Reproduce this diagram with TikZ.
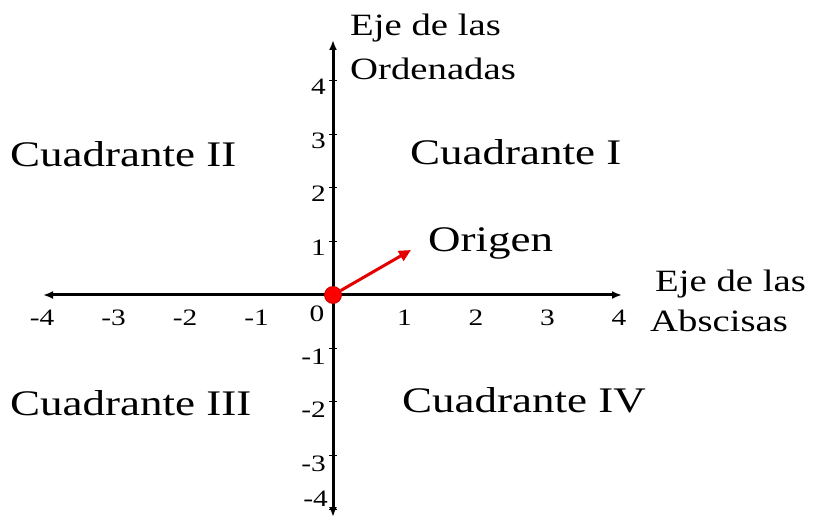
\documentclass[tikz,border=0pt]{standalone}
\usepackage{fontspec}
\setmainfont{Liberation Serif}
\usetikzlibrary{arrows.meta}
\begin{document}
\begin{tikzpicture}[x=1pt,y=-1pt,
  axis/.style={line width=3pt, {Latex[length=10pt,width=8pt]}-{Latex[length=10pt,width=8pt]}},
  tickmark/.style={line width=1pt},
  lbl/.style={inner sep=0pt, anchor=base west},
  quad/.style={lbl, font=\fontsize{36}{40}\selectfont},
  axlbl/.style={lbl, font=\fontsize{31}{36}\selectfont},
  num/.style={inner sep=0pt, font=\fontsize{23.5}{26}\selectfont},
  redarrow/.style={draw=red!90!black, line width=3pt, -{Triangle[length=12pt,width=11pt]}},
  dotstyle/.style={circle, fill=red, draw=red!75!black, line width=0.8pt, minimum size=17pt, inner sep=0pt}]
\useasboundingbox (0,0) rectangle (814,518);
\coordinate (O) at (333,295);
\coordinate (xl) at (43,295);
\coordinate (xr) at (622,295);
\coordinate (yt) at (333,40);
\coordinate (yb) at (333,517);
\draw[axis] (xl) -- (xr);
\draw[axis] (yb) -- (yt);
% y ticks and labels
\foreach \i in {1,...,4} {
  \coordinate (ytp\i) at (333,{295-53.5*\i});
  \coordinate (ytm\i) at (333,{295+53.5*\i});
  \draw[tickmark] ([xshift=-4pt]ytp\i) -- ([xshift=4pt]ytp\i);
  \draw[tickmark] ([xshift=-4pt]ytm\i) -- ([xshift=4pt]ytm\i);
  \node[num, anchor=east] (ylp\i) at (326,{295-53.5*\i+6}) {\scalebox{1.25}[1]{\i}};
  \node[num] (xlp\i) at ({333+71.5*\i},318) {\scalebox{1.25}[1]{\i}};
  \node[num] (xlm\i) at ({333-71.5*\i},318) {\scalebox{1.25}[1]{\llap{-}\i}};
}
\foreach \i in {1,2,3} {
  \node[num, anchor=east] (ylm\i) at (326,{295+53.5*\i+8}) {\scalebox{1.25}[1]{-\i}};
}
\node[num, anchor=east] (ylm4) at (328,499) {\scalebox{1.25}[1]{-4}};
\node[num] (zero) at (317,314) {\scalebox{1.25}[1]{0}};
% origin
\node[dotstyle] (dot) at (O) {};
\coordinate (tip) at (411,250);
\draw[redarrow] (dot) -- (tip);
% texts
\node[axlbl] (eo1) at (350,36) {\scalebox{1.25}[1]{Eje de las}};
\node[axlbl] (eo2) at (350,80) {\scalebox{1.25}[1]{Ordenadas}};
\node[axlbl] (ea1) at (655,292) {\scalebox{1.25}[1]{Eje de las}};
\node[axlbl] (ea2) at (650,332) {\scalebox{1.25}[1]{Abscisas}};
\node[quad] (q2) at (10,167) {\scalebox{1.25}[1]{Cuadrante II}};
\node[quad] (q1) at (410,165) {\scalebox{1.25}[1]{Cuadrante I}};
\node[quad] (q3) at (10,416) {\scalebox{1.25}[1]{Cuadrante III}};
\node[quad] (q4) at (402,413) {\scalebox{1.25}[1]{Cuadrante IV}};
\node[quad] (orig) at (428,252) {\scalebox{1.25}[1]{Origen}};
\end{tikzpicture}
\end{document}
